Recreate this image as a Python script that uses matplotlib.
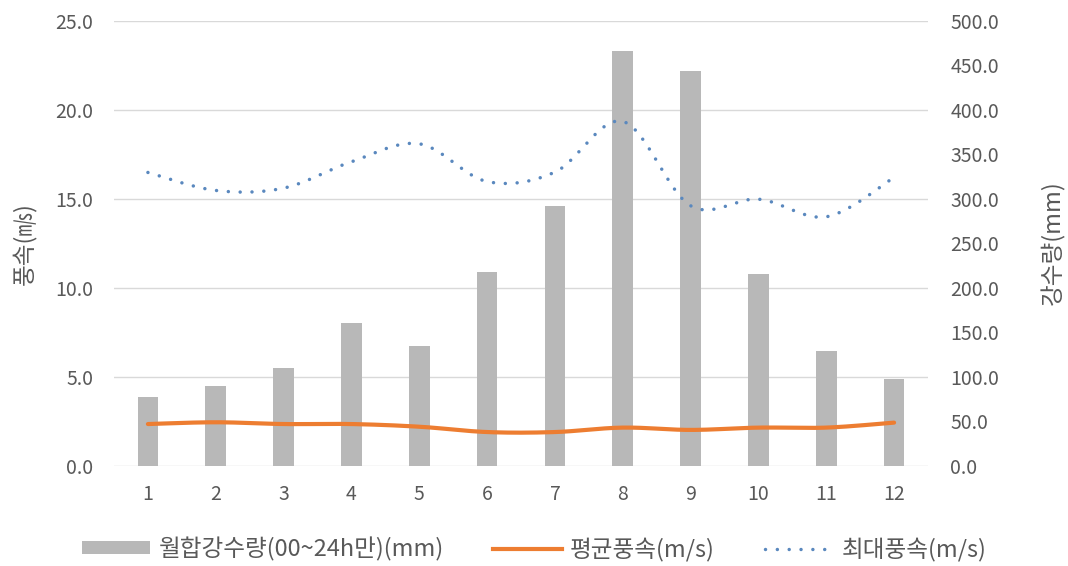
import numpy as np
import matplotlib
matplotlib.use("Agg")
import matplotlib.pyplot as plt
from matplotlib.patches import Patch
from matplotlib.lines import Line2D

plt.rcParams['font.family'] = ['Noto Sans CJK KR', 'DejaVu Sans']

# Monthly data
months = [1, 2, 3, 4, 5, 6, 7, 8, 9, 10, 11, 12]
month_labels = [str(m) for m in months]
precip_mm = [76.7, 89.8, 110.0, 160.0, 134.8, 217.6, 292.2, 465.5, 443.0, 215.4, 128.8, 97.3]
mean_wind = [2.33, 2.43, 2.33, 2.33, 2.18, 1.88, 1.88, 2.13, 2.00, 2.13, 2.13, 2.41]
max_wind = [16.47, 15.46, 15.59, 17.07, 18.08, 15.96, 16.49, 19.34, 14.60, 14.97, 13.98, 16.19]

left_ticks = [0, 5, 10, 15, 20, 25]
right_ticks = [0, 50, 100, 150, 200, 250, 300, 350, 400, 450, 500]

TEXT = '#595959'
GRID = '#D9D9D9'
BAR = '#B8B8B8'
ORANGE = '#ED7D31'
BLUE = '#5A88BE'


def smooth(x, y, n=30):
    """Catmull-Rom style smoothing between consecutive points."""
    x = np.asarray(x, float)
    y = np.asarray(y, float)
    px = np.concatenate([[x[0]], x, [x[-1]]])
    py = np.concatenate([[y[0]], y, [y[-1]]])
    xs, ys = [], []
    t = np.linspace(0, 1, n, endpoint=False)
    for i in range(1, len(px) - 2):
        p0x, p1x, p2x, p3x = px[i - 1], px[i], px[i + 1], px[i + 2]
        p0y, p1y, p2y, p3y = py[i - 1], py[i], py[i + 1], py[i + 2]
        c1x = p1x + (p2x - p0x) / 6
        c1y = p1y + (p2y - p0y) / 6
        c2x = p2x - (p3x - p1x) / 6
        c2y = p2y - (p3y - p1y) / 6
        b0 = (1 - t) ** 3
        b1 = 3 * (1 - t) ** 2 * t
        b2 = 3 * (1 - t) * t ** 2
        b3 = t ** 3
        xs.append(b0 * p1x + b1 * c1x + b2 * c2x + b3 * p2x)
        ys.append(b0 * p1y + b1 * c1y + b2 * c2y + b3 * p2y)
    xs.append([x[-1]])
    ys.append([y[-1]])
    return np.concatenate(xs), np.concatenate(ys)


fig = plt.figure(figsize=(10.68, 5.66), dpi=100)
rect = [114 / 1068, 1 - 465.5 / 566, 814 / 1068, (465.5 - 20.7) / 566]

ax = fig.add_axes(rect)
ax.set_xlim(0.5, 12.5)
ax.set_ylim(0, 25)
ax.set_yticks(left_ticks)
ax.set_yticklabels([f'{v:.1f}' for v in left_ticks])
ax.set_xticks(months)
ax.set_xticklabels(month_labels)
ax.grid(axis='y', color=GRID, linewidth=1.0)
ax.grid(axis='x', visible=False)
for s in ax.spines.values():
    s.set_visible(False)
ax.tick_params(axis='y', length=0, pad=15, labelsize=14, labelcolor=TEXT)
ax.tick_params(axis='x', length=0, pad=13, labelsize=14, labelcolor=TEXT)
ax.set_ylabel('풍속(㎧)', fontsize=17, color=TEXT, labelpad=14)

# precipitation bars on the secondary axis
ax2 = ax.twinx()
ax2.set_ylim(0, 500)
ax2.set_yticks(right_ticks)
ax2.set_yticklabels([f'{v:.1f}' for v in right_ticks])
for s in ax2.spines.values():
    s.set_visible(False)
ax2.tick_params(axis='y', length=0, pad=16, labelsize=14, labelcolor=TEXT)
ax2.bar(months, precip_mm, width=0.305, color=BAR, zorder=2)
ax2.set_ylabel('강수량(mm)', fontsize=17, color=TEXT, labelpad=30, rotation=90)

# wind lines on top
ax3 = ax.twinx()
ax3.set_ylim(0, 25)
ax3.set_xlim(0.5, 12.5)
ax3.axis('off')
sx, sy = smooth(months, mean_wind)
ax3.plot(sx, sy, color=ORANGE, linewidth=3.0, solid_capstyle='round')
sx, sy = smooth(months, max_wind)
ax3.plot(sx, sy, color=BLUE, linewidth=2.5, linestyle=(0, (0.01, 3.4)),
         dash_capstyle='round')

handles = [
    Patch(facecolor=BAR, edgecolor='none'),
    Line2D([], [], color=ORANGE, linewidth=3.0),
    Line2D([], [], color=BLUE, linewidth=2.5, linestyle=(0, (0.01, 3.4)),
           dash_capstyle='round'),
]
labels = ['월합강수량(00~24h만)(mm)', '평균풍속(m/s)', '최대풍속(m/s)']
leg = fig.legend(handles, labels, loc='center', bbox_to_anchor=(0.5, 0.03),
                 ncol=3, frameon=False, fontsize=17, handlelength=2.9,
                 handleheight=0.5, handletextpad=0.35, columnspacing=2.1,
                 labelcolor=TEXT)

fig.savefig('out.png', dpi=100)
